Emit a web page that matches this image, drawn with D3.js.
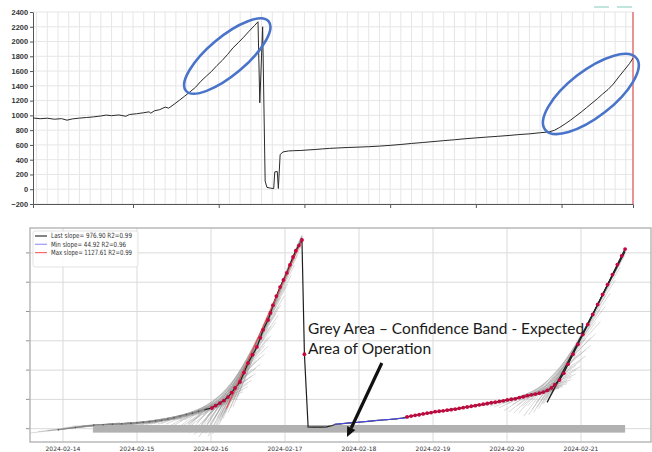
<!DOCTYPE html>
<html>
<head>
<meta charset="utf-8">
<script src="https://cdn.jsdelivr.net/npm/d3@7"></script>
<style>
  body { margin: 0; background: #fff; }
  svg { display: block; }
</style>
</head>
<body>
<svg id="chart" width="652" height="452"></svg>
<script>
// ---------- upper panel: raw sensor signal ----------
const rawStart = "2024-02-14T14:00:00";
const rawEnd = "2024-02-21T14:00:00";
// hours after rawStart
const rawHours = [0, 2, 4, 6, 8, 9.5, 11, 13, 15, 17, 19, 20.5, 22, 24, 26, 27, 29, 31, 32.5, 33,
  34, 35.5, 37, 38, 39.5, 41, 42.5, 44, 45.5, 47, 48.5, 50, 51.5, 53, 54.5, 56, 57.5, 59, 60.5, 62,
  63, 63.5, 64.3, 65, 65.5, 66.5, 67.4, 67.7, 68.4, 68.7, 69.2, 70, 71.5, 73, 75, 77, 79, 81, 83, 85,
  88, 91, 94, 97, 100, 103, 106, 109, 112, 115, 118, 121, 124, 127, 130, 133, 136, 139, 142, 144.5,
  146, 147.5, 149, 150.5, 152, 153.5, 155, 156.5, 158, 159.5, 161, 162.5, 164, 165.5, 167, 168];
const rawValues = [965, 955, 962, 948, 956, 935, 952, 963, 971, 980, 992, 1004, 996, 1006, 988, 1012, 1022, 1036, 1048, 1030,
  1062, 1078, 1112, 1098, 1150, 1205, 1262, 1320, 1380, 1462, 1530, 1596, 1675, 1745, 1826, 1915, 1985, 2060, 2140, 2215,
  2268, 1170, 2200, 110, 25, 15, 8, 235, 240, 10, 470, 505, 518, 522, 525, 532, 538, 546, 553, 558,
  565, 570, 576, 584, 594, 606, 620, 632, 645, 658, 670, 684, 695, 706, 716, 727, 740, 750, 765, 776,
  798, 838, 885, 935, 990, 1045, 1105, 1165, 1225, 1290, 1350, 1425, 1520, 1610, 1700, 1775];
const rawYTicks = [-200, 0, 200, 400, 600, 800, 1000, 1200, 1400, 1600, 1800, 2000, 2200, 2400];
const rawXTicks = ["2024-02-15T18:00:00", "2024-02-16T18:00:00", "2024-02-17T18:00:00",
  "2024-02-18T18:00:00", "2024-02-19T18:00:00", "2024-02-20T18:00:00"];
// highlighted ramps: [centre hour, centre value, half length px, half width px, tilt deg]
const rampMarks = [[54.4, 1804, 54, 19, -40], [156.2, 1290, 58, 23, -38]];

// ---------- lower panel: slope analysis ----------
const sigStart = "2024-02-14T00:00:00";
const sigDays = ["2024-02-14", "2024-02-15", "2024-02-16", "2024-02-17",
  "2024-02-18", "2024-02-19", "2024-02-20", "2024-02-21"];
const sigYTicks = [0, 200, 400, 600, 800, 1000, 1200];
// hours after sigStart
const leadHours = [-1.5, 4, 10, 13, 16, 19, 22, 24, 26, 28, 30, 32, 34, 36, 38, 40, 42, 44, 46];
const leadValues = [-8, 8, 24, 27, 30, 33, 36, 40, 43, 47, 53, 58, 66, 74, 86, 96, 106, 118, 130];
const riseAHours = [48.3, 49.5, 50.9, 52.2, 53.5, 54.7, 55.8, 57.4, 58.7, 60, 61.5, 62.9, 64, 64.9,
  66.5, 67.3, 68.1, 69.2, 70.4, 71.5, 72.6, 73.6, 74.6, 75.5, 76.5, 77.5, 78.3];
const riseAValues = [141, 158, 175, 192, 216, 246, 278, 319, 382, 448, 505, 558, 620, 675,
  742, 790, 843, 905, 967, 1015, 1063, 1118, 1172, 1215, 1250, 1288, 508];
const idleHours = [79.5, 81, 82.5, 84, 85.5, 87, 88.5, 90, 93, 96, 99, 102, 105, 108, 110.3];
const idleValues = [12, 11, 10, 11, 12, 20, 30, 33, 39, 44, 50, 56, 61, 67, 73];
const riseBHours = [111.6, 112.9, 114.2, 115.5, 116.8, 118.1, 119.4, 120.7, 122, 123.3, 124.6, 125.9,
  127.2, 128.5, 129.8, 131.1, 132.4, 133.7, 135, 136.3, 137.6, 138.9, 140.2, 141.5, 142.8, 144.1,
  145.4, 146.7, 148, 149.3, 150.6, 151.9, 153.2, 154.5, 155.8, 157.1, 158.4, 159.5, 161, 162.4,
  163.8, 165.4, 167, 168.6, 170.2, 171.8, 173.4, 175, 176.6, 178.2, 179.8, 181.2, 182.3];
const riseBValues = [80, 86, 91, 95, 101, 106, 110, 116, 119, 122, 126, 130,
  133, 139, 143, 148, 153, 157, 163, 167, 172, 177, 181, 186, 190, 196,
  201, 204, 212, 218, 225, 231, 236, 242, 250, 262, 278, 300, 332, 378,
  440, 508, 576, 644, 712, 780, 848, 916, 984, 1052, 1120, 1180, 1226];
// fitted slopes (value per day) and their spans [from hour, to hour, anchor hour, anchor value]
const slopeNames = ["Last slope", "Min slope", "Max slope"];
const slopeValues = [976.90, 44.92, 1127.61];
const slopeR2 = [0.99, 0.96, 0.99];
const slopeSpans = [[157, 182.3, 172, 790], [88, 111.5, 88, 30], [53, 77.5, 77.5, 1288]];
const slopeColors = ["#222222", "#4a4af0", "#ff3b3b"];
const legendColors = ["#333333", "#9a9af8", "#ff6b6b"];
// confidence band: [from hour, to hour, low, high]
const bandSpan = [9.7, 182.3, -27, 25];

// ---------- drawing ----------
const svg = d3.select("#chart");
const at = (t0, h) => new Date(+new Date(t0) + h * 3600e3);

// upper panel scales
const xTop = d3.scaleTime().domain([new Date(rawStart), new Date(rawEnd)]).range([33, 633]);
const yTop = d3.scaleLinear().domain([-200, 2400]).range([204, 12]);
const upper = svg.append("g");

// fine grid: every 3 hours and every 200 units
upper.append("g").selectAll("line")
  .data(d3.timeHour.every(3).range(new Date(rawStart), new Date(rawEnd)))
  .join("line")
  .attr("x1", d => xTop(d)).attr("x2", d => xTop(d))
  .attr("y1", yTop(2400)).attr("y2", yTop(-200))
  .attr("stroke", "#e6e6e6").attr("stroke-width", 1);
upper.append("g").selectAll("line").data(rawYTicks).join("line")
  .attr("x1", xTop.range()[0]).attr("x2", xTop.range()[1])
  .attr("y1", d => yTop(d)).attr("y2", d => yTop(d))
  .attr("stroke", "#e6e6e6").attr("stroke-width", 1);

// current-time marker at the right edge
upper.append("line")
  .attr("x1", xTop(new Date(rawEnd))).attr("x2", xTop(new Date(rawEnd)))
  .attr("y1", yTop(2400)).attr("y2", yTop(-200))
  .attr("stroke", "#e07070").attr("stroke-width", 1.5);

// axes
const topXAxis = d3.axisBottom(xTop).tickValues(rawXTicks.map(d => new Date(d)))
  .tickFormat("").tickSizeInner(4).tickSizeOuter(4);
upper.append("g").attr("transform", `translate(0,${yTop(-200)})`).call(topXAxis)
  .call(g => g.selectAll("path,line").attr("stroke", "#555"));
const topYAxis = d3.axisLeft(yTop).tickValues(rawYTicks).tickFormat(d3.format("d"))
  .tickSizeInner(3).tickSizeOuter(0).tickPadding(2);
upper.append("g").attr("transform", `translate(${xTop.range()[0]},0)`).call(topYAxis)
  .call(g => g.selectAll("path,line").attr("stroke", "#555"))
  .call(g => g.selectAll("text").attr("font-family", "Liberation Sans, Arial, sans-serif")
    .attr("font-size", 7.4).attr("fill", "#333").attr("font-weight", "bold"));

// signal line
const rawPts = rawHours.map((h, i) => [at(rawStart, h), rawValues[i]]);
upper.append("path").datum(rawPts)
  .attr("fill", "none").attr("stroke", "#2a2a2a").attr("stroke-width", 1)
  .attr("d", d3.line().x(d => xTop(d[0])).y(d => yTop(d[1])));

// small legend swatches in the corner
upper.append("g").selectAll("line").data([0, 1]).join("line")
  .attr("x1", d => 594 + d * 23).attr("x2", d => 609 + d * 23)
  .attr("y1", 7).attr("y2", 7)
  .attr("stroke", "#94d3c6").attr("stroke-width", 1.2);

// ellipses around the ramps
rampMarks.forEach(([h, v, rx, ry, tilt]) => {
  const cx = xTop(at(rawStart, h)), cy = yTop(v);
  upper.append("ellipse")
    .attr("cx", cx).attr("cy", cy).attr("rx", rx).attr("ry", ry)
    .attr("transform", `rotate(${tilt},${cx},${cy})`)
    .attr("fill", "none").attr("stroke", "#4a74c9").attr("stroke-width", 2.6);
});

// lower panel scales
const xBot = d3.scaleTime()
  .domain([at(sigStart, -10.7), at(sigStart, 190.7)]).range([30, 651]);
const yBot = d3.scaleLinear().domain([-91, 1370]).range([442, 228]);
const lower = svg.append("g");
lower.append("clipPath").attr("id", "plotClip").append("rect")
  .attr("x", 30).attr("y", 228).attr("width", 621).attr("height", 214);

// grid
lower.append("g").selectAll("line").data(sigDays).join("line")
  .attr("x1", d => xBot(new Date(d + "T00:00:00"))).attr("x2", d => xBot(new Date(d + "T00:00:00")))
  .attr("y1", 228).attr("y2", 442)
  .attr("stroke", "#dadada").attr("stroke-width", 1);
lower.append("g").selectAll("line").data(sigYTicks).join("line")
  .attr("x1", 30).attr("x2", 651)
  .attr("y1", d => yBot(d)).attr("y2", d => yBot(d))
  .attr("stroke", "#dadada").attr("stroke-width", 1);
// y tick marks
lower.append("g").selectAll("line").data(sigYTicks).join("line")
  .attr("x1", 26).attr("x2", 30)
  .attr("y1", d => yBot(d)).attr("y2", d => yBot(d))
  .attr("stroke", "#777").attr("stroke-width", 0.8);

// rolling least-squares fits drawn as a fan of thin lines
function lsq(pts) {
  const mx = d3.mean(pts, p => p[0]), my = d3.mean(pts, p => p[1]);
  let sxy = 0, sxx = 0;
  for (const [x, y] of pts) { sxy += (x - mx) * (y - my); sxx += (x - mx) * (x - mx); }
  const b = sxy / sxx;
  return { a: my - b * mx, b };
}
const leadPts = leadHours.map((h, i) => [h, leadValues[i]]);
const riseAPts = riseAHours.map((h, i) => [h, riseAValues[i]]);
const idlePts = idleHours.map((h, i) => [h, idleValues[i]]);
const riseBPts = riseBHours.map((h, i) => [h, riseBValues[i]]);
const fanSeries = [
  { pts: leadPts.concat(riseAPts.slice(0, -1)), from: 12, to: 77.5, back: 7 },
  { pts: idlePts.concat(riseBPts), from: 132, to: 182.3, back: 0 }
];
const fanLines = [];
for (const s of fanSeries) {
  for (const [h] of s.pts) {
    if (h < s.from || h > s.to) continue;
    for (const w of [6, 12, 18, 24]) {
      const win = s.pts.filter(p => p[0] >= h - w && p[0] <= h);
      if (win.length < 3) continue;
      const f = lsq(win);
      const h0 = h - w - (w === 6 ? s.back : 0), h1 = Math.min(h + 2.5, s.to);
      fanLines.push([[h0, f.a + f.b * h0], [h1, f.a + f.b * h1]]);
    }
  }
}
const sigLine = d3.line().x(d => xBot(at(sigStart, d[0]))).y(d => yBot(d[1]));
lower.append("g").attr("clip-path", "url(#plotClip)")
  .selectAll("path").data(fanLines).join("path")
  .attr("d", sigLine)
  .attr("stroke", "#9a9a9a").attr("stroke-width", 0.55).attr("stroke-opacity", 0.7).attr("fill", "none");

// confidence band
lower.append("rect")
  .attr("x", xBot(at(sigStart, bandSpan[0])))
  .attr("y", yBot(bandSpan[3]))
  .attr("width", xBot(at(sigStart, bandSpan[1])) - xBot(at(sigStart, bandSpan[0])))
  .attr("height", yBot(bandSpan[2]) - yBot(bandSpan[3]))
  .attr("fill", "#b1b1b1");

// signal
const allPts = leadPts.concat(riseAPts, idlePts, riseBPts);
lower.append("path").datum(leadPts)
  .attr("d", sigLine).attr("fill", "none").attr("stroke", "#777").attr("stroke-width", 0.7);
lower.append("path").datum(allPts.slice(leadPts.length - 1))
  .attr("d", sigLine).attr("fill", "none").attr("stroke", "#1e1e1e").attr("stroke-width", 1.2);
lower.append("g").selectAll("circle").data(leadPts.concat(idlePts)).join("circle")
  .attr("cx", d => xBot(at(sigStart, d[0]))).attr("cy", d => yBot(d[1])).attr("r", 0.8)
  .attr("fill", "#555");

// fitted slope lines
slopeSpans.forEach((s, i) => {
  const perHour = slopeValues[i] / 24;
  const v = h => s[3] + perHour * (h - s[2]);
  lower.append("path").datum([[s[0], v(s[0])], [s[1], v(s[1])]])
    .attr("d", sigLine).attr("stroke", slopeColors[i])
    .attr("stroke-width", i === 0 ? 1.3 : 1).attr("fill", "none");
});

// red markers on the active phases
lower.append("g").selectAll("circle").data(riseAPts.concat(riseBPts)).join("circle")
  .attr("cx", d => xBot(at(sigStart, d[0]))).attr("cy", d => yBot(d[1])).attr("r", 1.9)
  .attr("fill", "#c4073f");

// frame
lower.append("rect").attr("x", 30).attr("y", 228).attr("width", 621).attr("height", 214)
  .attr("fill", "none").attr("stroke", "#b4b4b4").attr("stroke-width", 1.4);

// x labels
lower.append("g").selectAll("text").data(sigDays).join("text")
  .attr("x", d => xBot(new Date(d + "T00:00:00"))).attr("y", 451)
  .attr("text-anchor", "middle")
  .attr("font-family", "DejaVu Sans, sans-serif").attr("font-size", 6).attr("fill", "#333")
  .text(d => d);

// legend
const lg = lower.append("g");
lg.append("rect").attr("x", 33).attr("y", 231).attr("width", 105).attr("height", 36).attr("rx", 2)
  .attr("fill", "#fff").attr("fill-opacity", 0.85).attr("stroke", "#dcdcdc").attr("stroke-width", 0.8);
slopeNames.forEach((n, i) => {
  const y = 236 + i * 8.3;
  lg.append("line").attr("x1", 35).attr("x2", 47).attr("y1", y).attr("y2", y)
    .attr("stroke", legendColors[i]).attr("stroke-width", 1.2);
  lg.append("text").attr("x", 51).attr("y", y + 2.4)
    .attr("font-family", "DejaVu Sans, sans-serif").attr("font-size", 7.2).attr("fill", "#333")
    .attr("textLength", i === 1 ? 75 : 81).attr("lengthAdjust", "spacingAndGlyphs")
    .text(`${n}= ${slopeValues[i].toFixed(2)} R2=${slopeR2[i].toFixed(2)}`);
});

// annotation
const note = lower.append("g").attr("font-family", "Lato, 'Open Sans', sans-serif").attr("font-size", 15).attr("fill", "#1a1a1a");
note.append("text").attr("x", xBot(at(sigStart, 79.5))).attr("y", yBot(645))
  .attr("textLength", 276).attr("lengthAdjust", "spacingAndGlyphs")
  .text("Grey Area \u2013 Confidence Band - Expected");
note.append("text").attr("x", xBot(at(sigStart, 79.5))).attr("y", yBot(510))
  .attr("textLength", 123).attr("lengthAdjust", "spacingAndGlyphs")
  .text("Area of Operation");

// arrow pointing into the band
const tail = [xBot(at(sigStart, 103.4)), yBot(448)];
const tip = [xBot(at(sigStart, 92.1)), yBot(-57)];
const ang = Math.atan2(tip[1] - tail[1], tip[0] - tail[0]);
const headLen = 10, headW = 4.5;
const base = [tip[0] - headLen * Math.cos(ang), tip[1] - headLen * Math.sin(ang)];
lower.append("line").attr("x1", tail[0]).attr("y1", tail[1]).attr("x2", base[0]).attr("y2", base[1])
  .attr("stroke", "#111").attr("stroke-width", 3.2);
lower.append("path")
  .attr("d", `M${tip[0]},${tip[1]}L${base[0] + headW * Math.sin(ang)},${base[1] - headW * Math.cos(ang)}L${base[0] - headW * Math.sin(ang)},${base[1] + headW * Math.cos(ang)}Z`)
  .attr("fill", "#111");
</script>
</body>
</html>
